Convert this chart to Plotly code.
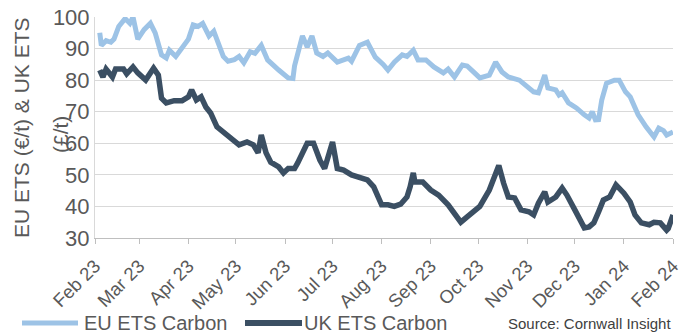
import plotly.graph_objects as go

eu_dates = ["2023-02-04","2023-02-05","2023-02-08","2023-02-11","2023-02-13","2023-02-16","2023-02-20","2023-02-23","2023-02-25","2023-02-28",
            "2023-03-04","2023-03-08","2023-03-11","2023-03-15","2023-03-18","2023-03-20","2023-03-24","2023-03-29",
            "2023-04-01","2023-04-04","2023-04-07","2023-04-10","2023-04-14","2023-04-17","2023-04-20","2023-04-23","2023-04-26","2023-04-30",
            "2023-05-03","2023-05-06","2023-05-10","2023-05-13","2023-05-17","2023-05-21","2023-05-28",
            "2023-06-03","2023-06-06","2023-06-07","2023-06-12","2023-06-15","2023-06-18","2023-06-21","2023-06-25","2023-06-28",
            "2023-07-04","2023-07-08","2023-07-11","2023-07-13","2023-07-18","2023-07-23","2023-07-28",
            "2023-08-02","2023-08-05","2023-08-09","2023-08-14","2023-08-17","2023-08-21","2023-08-24","2023-08-29",
            "2023-09-03","2023-09-09","2023-09-12","2023-09-16","2023-09-21","2023-09-24","2023-09-28",
            "2023-10-02","2023-10-08","2023-10-12","2023-10-16","2023-10-20","2023-10-27","2023-10-31",
            "2023-11-05","2023-11-08","2023-11-12","2023-11-14","2023-11-19","2023-11-21","2023-11-23","2023-11-27",
            "2023-12-02","2023-12-07","2023-12-10","2023-12-12","2023-12-14","2023-12-16","2023-12-18","2023-12-21","2023-12-26","2023-12-29",
            "2024-01-02","2024-01-05","2024-01-10","2024-01-15","2024-01-20","2024-01-23","2024-01-26","2024-01-28","2024-02-01"]
eu_values = [95,91,92.5,92,93,97,99.5,98,100,93,
             96,98,95,88,87,89.5,87.5,91,
             93,97.5,97,98,94,95.5,92,87.5,86,86.5,
             87.5,85.5,89,88.5,91,86.4,83.2,
             80.7,80.5,84.5,94,90.5,94,88.6,87.5,88.6,
             85.7,86.5,87,86,91,92,87.3,
             85,83.2,85.7,88,87.5,89.5,86.4,86.4,
             84.2,82.3,83.5,81,84.8,84.5,82.6,
             80.7,81.6,85.7,82.6,81,80,78.5,
             76.3,76,81.6,77.5,76.9,75.3,76,72.8,
             71.2,69,68,70,67.4,67.5,73.7,79,80,80,
             76.3,74.7,69,65.2,62,64.8,64,62.6,63.6]

uk_dates = ["2023-02-04","2023-02-06","2023-02-08","2023-02-12","2023-02-14","2023-02-19","2023-02-21","2023-02-25","2023-02-28",
            "2023-03-03","2023-03-05","2023-03-10","2023-03-13","2023-03-15","2023-03-18","2023-03-23","2023-03-28",
            "2023-04-01","2023-04-03","2023-04-06","2023-04-09","2023-04-12","2023-04-15","2023-04-19","2023-04-23","2023-04-28",
            "2023-05-03","2023-05-08","2023-05-12","2023-05-15","2023-05-17","2023-05-20","2023-05-23","2023-05-28","2023-05-31",
            "2023-06-03","2023-06-07","2023-06-09","2023-06-13","2023-06-15","2023-06-19","2023-06-23","2023-06-26",
            "2023-07-01","2023-07-04","2023-07-08","2023-07-13","2023-07-18","2023-07-23","2023-07-27",
            "2023-08-01","2023-08-05","2023-08-09","2023-08-13","2023-08-17","2023-08-19","2023-08-21","2023-08-22","2023-08-27",
            "2023-09-01","2023-09-06","2023-09-12","2023-09-17","2023-09-20","2023-09-24",
            "2023-10-02","2023-10-08","2023-10-12","2023-10-14","2023-10-17","2023-10-20","2023-10-24","2023-10-28",
            "2023-11-02","2023-11-05","2023-11-08","2023-11-12","2023-11-14","2023-11-19","2023-11-23","2023-11-26",
            "2023-12-01","2023-12-04","2023-12-07","2023-12-10","2023-12-13","2023-12-16","2023-12-19","2023-12-23","2023-12-27",
            "2024-01-01","2024-01-05","2024-01-08","2024-01-12","2024-01-17","2024-01-20","2024-01-24","2024-01-28","2024-01-29","2024-02-01"]
uk_values = [83.2,81,83.5,81,83.5,83.5,82,84.2,82.3,
             81,80,83.8,81.6,74.3,72.8,73.5,73.5,
             74.7,76.9,73.7,74.7,71.5,69.6,65.2,63.6,62,
             59.5,60.4,59.5,57,62.6,57,54,52.5,50.6,
             52,52,53.8,57.9,60,60,54.7,52,
             60.4,52,51.5,50,49,48.4,46.2,
             40.5,40.5,40,40.7,43,46.2,50.6,47.7,47.7,
             45.2,43.6,40.5,36.7,35,36.7,
             40,45.2,50,53,47.4,43,42.7,38.9,
             38.3,37.3,41,44.6,41.4,43,45.8,43.6,
             38.9,35.7,33.2,33.5,34.8,38.3,42,43,46.8,
             44.2,41.4,37.3,34.8,34.2,35,34.8,32.5,33,37.3]

eu_name = "EU ETS Carbon"
uk_name = "UK ETS Carbon"
y_ticks = [30, 40, 50, 60, 70, 80, 90, 100]

eu_color = "#9DC3E6"
uk_color = "#3B4F63"
txt = "#595959"
font = "Liberation Sans, Arial, sans-serif"

fig = go.Figure()
fig.add_trace(go.Scatter(x=eu_dates, y=eu_values, mode="lines", name=eu_name,
                         line=dict(color=eu_color, width=5)))
fig.add_trace(go.Scatter(x=uk_dates, y=uk_values, mode="lines", name=uk_name,
                         line=dict(color=uk_color, width=5.5)))

# pixel helpers for legend / title placement (paper coordinates)
L, R, T, B, W, H = 95, 20, 17, 98, 693, 336
pw, ph = W - L - R, H - T - B
px = lambda x: (x - L) / pw
py = lambda y: (H - B - y) / ph

legend_y = py(323)
shapes = [
    dict(type="line", xref="paper", yref="paper", x0=px(22), x1=px(78), y0=legend_y, y1=legend_y,
         line=dict(color=eu_color, width=5)),
    dict(type="line", xref="paper", yref="paper", x0=px(245), x1=px(302), y0=legend_y, y1=legend_y,
         line=dict(color=uk_color, width=6)),
]

fig.update_layout(
    width=W, height=H,
    margin=dict(l=L, r=R, t=T, b=B),
    paper_bgcolor="white", plot_bgcolor="white",
    font=dict(family=font, color=txt, size=16),
    showlegend=False,
    shapes=shapes,
    xaxis=dict(type="date", range=["2023-02-01", "2024-02-01"],
               tick0="2023-02-01", dtick="M1", tickformat="%b %y",
               tickangle=-45, ticks="outside", ticklen=5, tickcolor="#BFBFBF",
               showline=True, linecolor="#BFBFBF", linewidth=1, automargin=False,
               ticklabelstandoff=4,
               showgrid=False, tickfont=dict(size=18.5, color=txt)),
    yaxis=dict(range=[30, 100], tickvals=y_ticks, showgrid=True,
               gridcolor="#D9D9D9", gridwidth=1, zeroline=False, automargin=False,
               showline=True, linecolor="#D9D9D9", linewidth=1,
               ticks="", tickfont=dict(size=22, color=txt)),
    annotations=[
        dict(text="EU ETS (€/t) & UK ETS", xref="paper", yref="paper",
             x=px(21), y=py(128), xanchor="center", yanchor="middle", textangle=-90,
             showarrow=False, font=dict(size=21, color=txt)),
        dict(text="(£/t)", xref="paper", yref="paper",
             x=px(60), y=py(135), xanchor="center", yanchor="middle", textangle=-90,
             showarrow=False, font=dict(size=21, color=txt)),
        dict(text=eu_name, xref="paper", yref="paper",
             x=px(82), y=legend_y, xanchor="left", yanchor="middle",
             showarrow=False, font=dict(size=20, color=txt)),
        dict(text=uk_name, xref="paper", yref="paper",
             x=px(302), y=legend_y, xanchor="left", yanchor="middle",
             showarrow=False, font=dict(size=20, color=txt)),
        dict(text="Source: Cornwall Insight", xref="paper", yref="paper",
             x=1.0, y=legend_y, xanchor="right", yanchor="middle",
             showarrow=False, font=dict(size=15, color="#404040")),
    ],
)

fig.write_html("out.html")
